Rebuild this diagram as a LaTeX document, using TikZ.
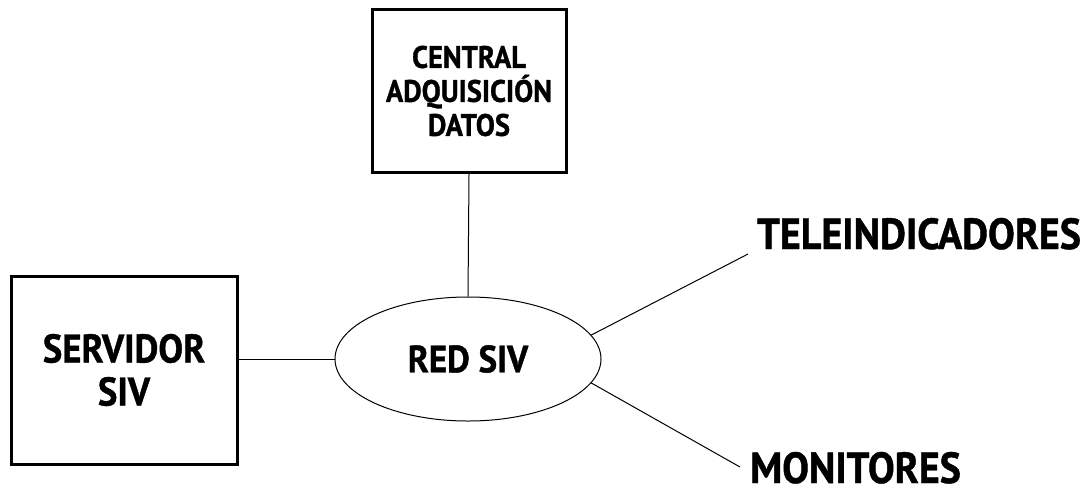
\documentclass[tikz,border=0pt]{standalone}
\usepackage{fontspec}
\newfontfamily\sivfont[FakeStretch=0.92,BoldFeatures={FakeBold=1}]{PT Sans}
\usetikzlibrary{shapes.geometric}

\begin{document}
\begin{tikzpicture}[x=1pt,y={(0pt,-1pt)},
  caja/.style={draw,line width=3pt,inner sep=0pt,align=center},
  red/.style={draw,ellipse,line width=1pt,inner sep=0pt},
  etiqueta/.style={inner sep=0pt,text depth=0pt,anchor=base west},
  font=\sivfont\bfseries]
\useasboundingbox (0,0) rectangle (1086,488);

% Equipment boxes
\node[caja,minimum width=194pt,minimum height=163pt,font=\sivfont\bfseries\fontsize{31}{34}\selectfont]
  (central) at (469,91) {CENTRAL\\ADQUISICIÓN\\DATOS};
\node[caja,minimum width=226pt,minimum height=188pt,font=\sivfont\bfseries\fontsize{40}{43}\selectfont]
  (servidor) at (124,370) {SERVIDOR\\SIV};

% Network
\node[red,minimum width=266pt,minimum height=124pt,font=\sivfont\bfseries\fontsize{38}{38}\selectfont]
  (redsiv) at (468,359) {RED SIV};

% Outputs
\node[etiqueta,font=\sivfont\bfseries\fontsize{43.5}{44}\selectfont] (tele) at (757,249) {TELEINDICADORES};
\node[etiqueta,font=\sivfont\bfseries\fontsize{43.5}{44}\selectfont] (moni) at (750,483) {MONITORES};
\coordinate (teleend) at (748,254);
\coordinate (moniend) at (740,467);

% Links
\draw[line width=1pt] (central.south) -- (redsiv.north);
\draw[line width=1pt] (redsiv.west) -- (redsiv.west -| servidor.east);
\draw[line width=1pt] (redsiv.11) -- (teleend);
\draw[line width=1pt] (redsiv.-11) -- (moniend);

\end{tikzpicture}
\end{document}
